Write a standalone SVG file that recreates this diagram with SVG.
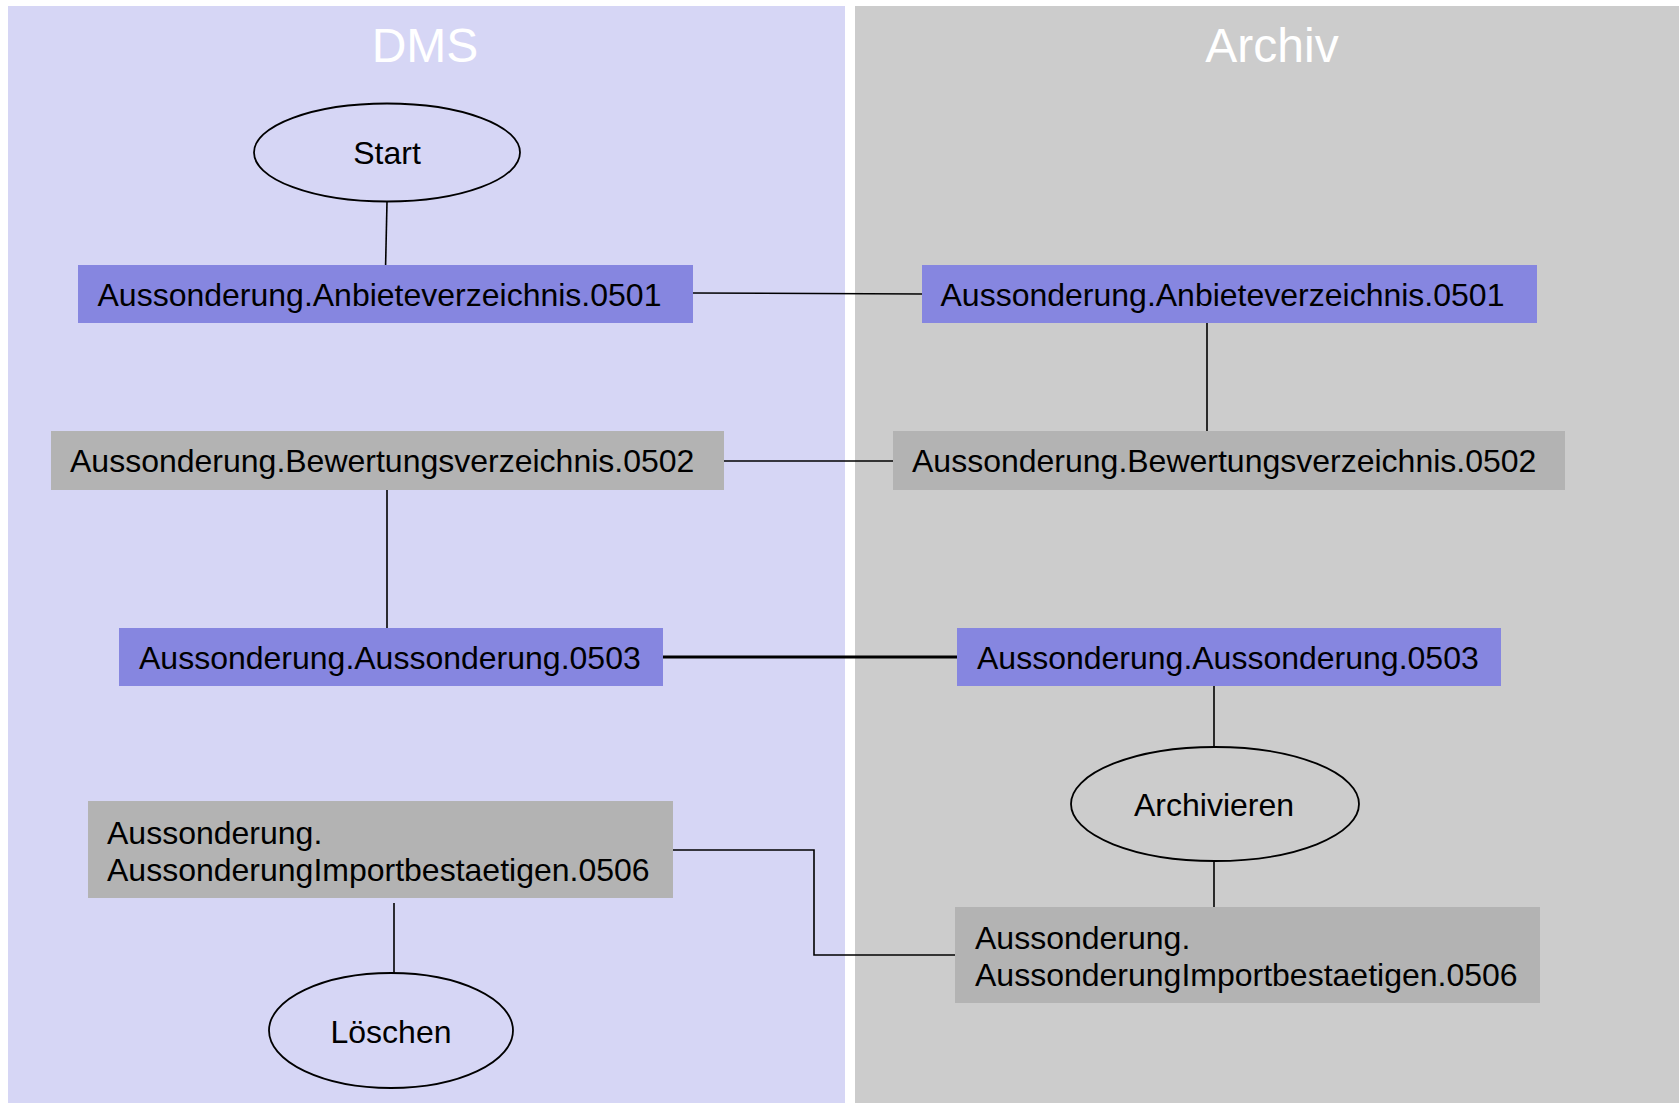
<svg xmlns="http://www.w3.org/2000/svg" width="1679" height="1103" viewBox="0 0 1679 1103">
<style>
text{font-family:"Liberation Sans",Arial,sans-serif;fill:#000}
.title{font-size:48px;fill:#fff;text-anchor:middle}
.lbl{font-size:32px}
.mid{text-anchor:middle}
.blue{fill:#8686E0}
.grey{fill:#B3B3B3}
.ell{fill:none;stroke:#000;stroke-width:1.8}
.c{fill:none;stroke:#000;stroke-width:1.6}
.thick{stroke-width:3}
</style>
<rect x="0" y="0" width="1679" height="1103" fill="#fff"/>
<g id="lane-dms">
<rect x="8" y="6" width="837" height="1097" fill="#D6D6F5"/>
<text class="title" x="425" y="62">DMS</text>
</g>
<g id="lane-archiv">
<rect x="855" y="6" width="824" height="1097" fill="#CCCCCC"/>
<text class="title" x="1272" y="62">Archiv</text>
</g>
<g id="connectors">
<line class="c" x1="387" y1="202" x2="385.6" y2="265"/>
<line class="c" x1="693" y1="293" x2="922" y2="294"/>
<line class="c" x1="1207" y1="323" x2="1207" y2="431"/>
<line class="c" x1="724" y1="461" x2="893" y2="461"/>
<line class="c" x1="387" y1="490" x2="387" y2="628"/>
<line class="c thick" x1="663" y1="657" x2="957" y2="657"/>
<line class="c" x1="1214" y1="686" x2="1214" y2="747"/>
<line class="c" x1="1214" y1="861" x2="1214" y2="907"/>
<polyline class="c" points="673,850 814,850 814,955 955,955"/>
<line class="c" x1="394" y1="903" x2="394" y2="973"/>
</g>
<g id="start">
<ellipse class="ell" cx="387" cy="152.5" rx="133" ry="49"/>
<text class="lbl mid" x="387" y="164">Start</text>
</g>
<g id="dms-0501">
<rect class="blue" x="78" y="265" width="615" height="58"/>
<text class="lbl" x="97.5" y="306">Aussonderung.Anbieteverzeichnis.0501</text>
</g>
<g id="archiv-0501">
<rect class="blue" x="922" y="265" width="615" height="58"/>
<text class="lbl" x="940.5" y="306">Aussonderung.Anbieteverzeichnis.0501</text>
</g>
<g id="dms-0502">
<rect class="grey" x="51" y="431" width="673" height="59"/>
<text class="lbl" x="70" y="472">Aussonderung.Bewertungsverzeichnis.0502</text>
</g>
<g id="archiv-0502">
<rect class="grey" x="893" y="431" width="672" height="59"/>
<text class="lbl" x="912" y="472">Aussonderung.Bewertungsverzeichnis.0502</text>
</g>
<g id="dms-0503">
<rect class="blue" x="119" y="628" width="544" height="58"/>
<text class="lbl" x="139" y="669">Aussonderung.Aussonderung.0503</text>
</g>
<g id="archiv-0503">
<rect class="blue" x="957" y="628" width="544" height="58"/>
<text class="lbl" x="977" y="669">Aussonderung.Aussonderung.0503</text>
</g>
<g id="archivieren">
<ellipse class="ell" cx="1215" cy="804" rx="144" ry="57"/>
<text class="lbl mid" x="1214" y="816">Archivieren</text>
</g>
<g id="dms-0506">
<rect class="grey" x="88" y="801" width="585" height="97"/>
<text class="lbl" x="107" y="844">Aussonderung.</text>
<text class="lbl" x="107" y="881">AussonderungImportbestaetigen.0506</text>
</g>
<g id="archiv-0506">
<rect class="grey" x="955" y="907" width="585" height="96"/>
<text class="lbl" x="975" y="949">Aussonderung.</text>
<text class="lbl" x="975" y="986">AussonderungImportbestaetigen.0506</text>
</g>
<g id="loeschen">
<ellipse class="ell" cx="391" cy="1030.5" rx="122" ry="57.5"/>
<text class="lbl mid" x="391" y="1043">Löschen</text>
</g>
</svg>
